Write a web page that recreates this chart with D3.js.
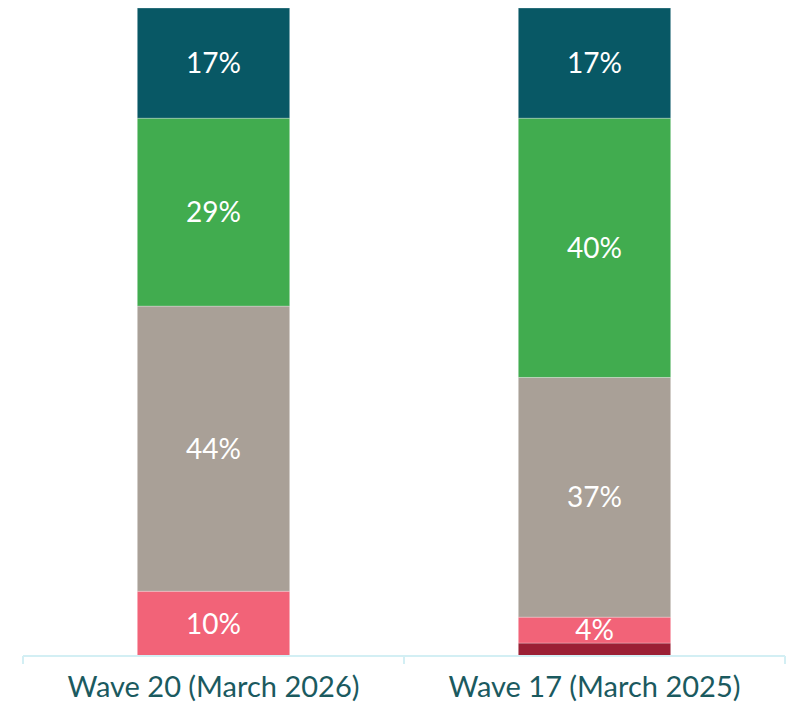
<!DOCTYPE html>
<html>
<head>
<meta charset="utf-8">
<script src="https://cdn.jsdelivr.net/npm/d3@7"></script>
<style>
  body { margin: 0; background: #fff; }
  svg { display: block; font-family: Lato, "Open Sans", sans-serif; }
</style>
</head>
<body>
<svg id="chart" width="792" height="703"></svg>
<script>
// waves shown, left to right
var waves = ["Wave 20 (March 2026)", "Wave 17 (March 2025)"]
// stack order, bottom to top
var segments = ["darkred", "pink", "grey", "green", "teal"]
var colors = ["#9b2035", "#f26378", "#a9a097", "#41ac4f", "#085865"]
// percent values per wave, bottom to top
var wave20 = [0, 10, 44, 29, 17]
var wave17 = [2, 4, 37, 40, 17]

var rows = [wave20, wave17].map(function(vals, i){
    var r = {wave: waves[i]}
    segments.forEach(function(s, j){ r[s] = vals[j] })
    return r
})

var svg = d3.select("#chart")
var mLeft = 23, mRight = 785, mTop = 8, mBottom = 656

var x = d3.scaleBand().domain(waves).range([mLeft, mRight]).padding(0)
var y = d3.scaleLinear().domain([0, 100]).range([mBottom, mTop])
var color = d3.scaleOrdinal().domain(segments).range(colors)

var stacked = d3.stack().keys(segments)(rows)
var barW = x.bandwidth() * 0.4

var layer = svg.selectAll("g.layer").data(stacked).enter()
    .append("g").attr("class", "layer")
    .attr("fill", function(d){ return color(d.key) })

layer.selectAll("rect").data(function(d){ return d }).enter()
    .append("rect")
    .attr("x", function(d){ return x(d.data.wave) + (x.bandwidth() - barW) / 2 })
    .attr("width", barW)
    .attr("y", function(d){ return y(d[1]) })
    .attr("height", function(d){ return y(d[0]) - y(d[1]) })
    .attr("stroke", "#fff")
    .attr("stroke-opacity", 0.35)
    .attr("stroke-width", 0.8)

// value labels, skip the tiny bottom slice
layer.filter(function(d){ return d.key != "darkred" })
    .selectAll("text").data(function(d){ return d.filter(function(e){ return e[1] - e[0] > 0 }) }).enter()
    .append("text")
    .attr("x", function(d){ return x(d.data.wave) + x.bandwidth() / 2 })
    .attr("y", function(d){ return (y(d[0]) + y(d[1])) / 2 })
    .attr("dy", "0.36em")
    .attr("text-anchor", "middle")
    .attr("fill", "#fff")
    .style("font-size", "28px")
    .text(function(d){ return Math.round(d[1] - d[0]) + "%" })

// x axis
var axis = svg.append("g").attr("transform", "translate(0," + mBottom + ")")
axis.append("line")
    .attr("x1", mLeft).attr("x2", mRight)
    .attr("stroke", "#d3eff4").attr("stroke-width", 2)
var bounds = waves.map(function(w){ return x(w) }).concat([mRight])
axis.selectAll("line.tick").data(bounds).enter()
    .append("line").attr("class", "tick")
    .attr("x1", function(d){ return d }).attr("x2", function(d){ return d })
    .attr("y1", 0).attr("y2", 8)
    .attr("stroke", "#d3eff4").attr("stroke-width", 2)
axis.selectAll("text").data(waves).enter()
    .append("text")
    .attr("x", function(d){ return x(d) + x.bandwidth() / 2 })
    .attr("y", 41)
    .attr("text-anchor", "middle")
    .attr("fill", "#1b5a5f")
    .style("font-size", "29px")
    .text(function(d){ return d })
</script>
</body>
</html>
